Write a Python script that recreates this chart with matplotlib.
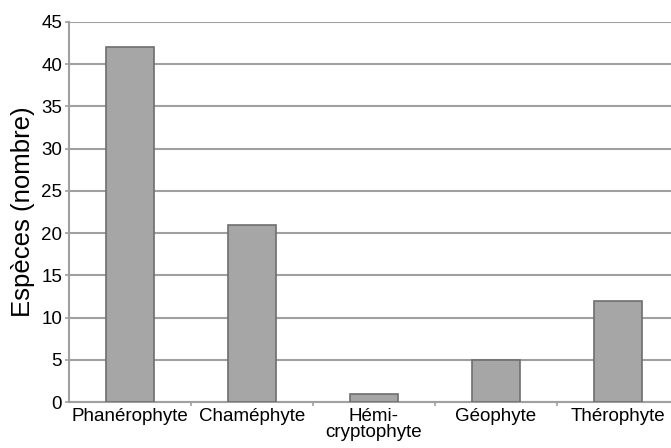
import numpy as np
import matplotlib.pyplot as plt

plt.rcParams['font.family'] = ['Liberation Sans', 'DejaVu Sans']

categories = ['Phanérophyte', 'Chaméphyte', 'Hémi-\ncryptophyte', 'Géophyte', 'Thérophyte']
species = [42, 21, 1, 5, 12]

fig = plt.figure(figsize=(6.71, 4.48), dpi=100)
ax = fig.add_axes([69 / 671, 46 / 448, 610 / 671, 380 / 448])

x = np.arange(len(categories))
ax.bar(x, species, width=0.39, color='#a6a6a6', edgecolor='#6e6e6e', linewidth=1.2, zorder=3)

ax.set_xlim(-0.5, len(categories) - 0.5)
ax.set_ylim(0, 45)
ax.set_yticks(np.arange(0, 46, 5))
ax.yaxis.grid(True, color='#a0a0a0', linewidth=1.5, zorder=0)

ax.set_xticks(x)
ax.set_xticklabels(categories, fontsize=13.5, linespacing=0.95)
ax.tick_params(axis='x', length=0, pad=4)
ax.set_xticks(np.arange(0.5, len(categories) - 0.5, 1), minor=True)
ax.tick_params(axis='x', which='minor', length=3, color='#a0a0a0', width=1.2)
ax.tick_params(axis='y', length=3, color='#a0a0a0', width=1.2, labelsize=13.5, pad=2)

for side in ['top', 'right']:
    ax.spines[side].set_visible(False)
for side in ['left', 'bottom']:
    ax.spines[side].set_color('#a0a0a0')
    ax.spines[side].set_linewidth(1.5)

ax.set_ylabel('Espèces (nombre)', fontsize=18.5, labelpad=4)

fig.savefig('out.png', dpi=100)
